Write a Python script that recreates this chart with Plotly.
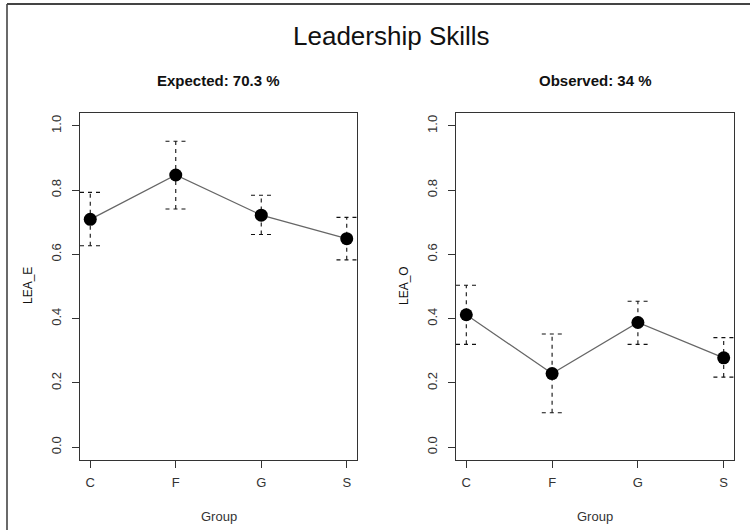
import plotly.graph_objects as go

groups = ["C", "F", "G", "S"]
exp_mean = [0.709, 0.847, 0.722, 0.649]
exp_lo = [0.627, 0.741, 0.662, 0.583]
exp_hi = [0.793, 0.952, 0.784, 0.715]
obs_mean = [0.412, 0.229, 0.388, 0.278]
obs_lo = [0.320, 0.107, 0.320, 0.218]
obs_hi = [0.504, 0.352, 0.454, 0.341]
yticks = [0.0, 0.2, 0.4, 0.6, 0.8, 1.0]
ytick_text = ["0.0", "0.2", "0.4", "0.6", "0.8", "1.0"]

main_title = "Leadership Skills"
sub_titles = ["Expected: 70.3 %", "Observed: 34 %"]
y_titles = ["LEA_E", "LEA_O"]
x_title = "Group"

FONT = "Liberation Sans, Arial, sans-serif"
CAP = 0.12
W, H = 750, 530
ML, MR, MT, MB = 80, 16, 113, 70

fig = go.Figure()

def err_paths(lo, hi):
    vx, vy, cx, cy = [], [], [], []
    for i, (a, b) in enumerate(zip(lo, hi)):
        x = i + 1
        vx += [x, x, None]
        vy += [a, b, None]
        cx += [x - CAP, x + CAP, None, x - CAP, x + CAP, None]
        cy += [a, a, None, b, b, None]
    return vx + cx, vy + cy

xs = list(range(1, len(groups) + 1))
panels = [(exp_mean, exp_lo, exp_hi), (obs_mean, obs_lo, obs_hi)]
for k, (m, lo, hi) in enumerate(panels):
    xa = "x" if k == 0 else "x2"
    ya = "y" if k == 0 else "y2"
    ex, ey = err_paths(lo, hi)
    fig.add_trace(go.Scatter(x=ex, y=ey, mode="lines", xaxis=xa, yaxis=ya,
                             line=dict(color="#111111", width=1.1, dash="4px,4px"),
                             showlegend=False, hoverinfo="skip"))
    fig.add_trace(go.Scatter(x=xs, y=m, mode="lines+markers", xaxis=xa, yaxis=ya,
                             line=dict(color="#666666", width=1.2),
                             marker=dict(color="black", size=13),
                             showlegend=False))

pw = W - ML - MR
ph = H - MT - MB
def px_x(p):
    return (p - ML) / pw
def px_y(p):
    return (H - MB - p) / ph

d1 = px_x(357)
d2 = px_x(456)
axis_common = dict(showgrid=False, zeroline=False, showline=True, mirror=True,
                   linecolor="#333333", linewidth=1.3, ticks="outside", ticklen=7,
                   tickcolor="#333333", tickwidth=1.2)
for k, dom in enumerate([[0, d1], [d2, 1]]):
    sfx = "" if k == 0 else "2"
    fig.layout["xaxis" + sfx] = dict(
        axis_common, domain=dom, range=[0.88, 4.12], tickmode="array",
        tickvals=xs, ticktext=groups, anchor="y" + sfx, ticklabelstandoff=3,
        tickfont=dict(family=FONT, size=13, color="#333333"))
    fig.layout["yaxis" + sfx] = dict(
        axis_common, range=[-0.04, 1.04], tickmode="array", tickvals=yticks,
        ticktext=ytick_text, tickangle=-90, anchor="x" + sfx, ticklabelstandoff=6,
        tickfont=dict(family=FONT, size=13, color="#333333"))

ann = [dict(text=main_title, x=px_x(391), y=px_y(36), xref="paper", yref="paper",
            xanchor="center", yanchor="middle", showarrow=False,
            font=dict(family=FONT, size=26, color="#111111")),
       dict(text="<b>" + sub_titles[0] + "</b>", x=(0 + d1) / 2, y=px_y(80), xref="paper",
            yref="paper", xanchor="center", yanchor="middle", showarrow=False,
            font=dict(family=FONT, size=15, color="#111111")),
       dict(text="<b>" + sub_titles[1] + "</b>", x=(d2 + 1) / 2, y=px_y(80), xref="paper",
            yref="paper", xanchor="center", yanchor="middle", showarrow=False,
            font=dict(family=FONT, size=15, color="#111111"))]
for k, (xl, xc) in enumerate([(28, (0 + d1) / 2), (404, (d2 + 1) / 2)]):
    ann.append(dict(text=y_titles[k], x=px_x(xl), y=px_y(286), xref="paper", yref="paper",
                    xanchor="center", yanchor="middle", textangle=-90, showarrow=False,
                    font=dict(family=FONT, size=12, color="#111111")))
    ann.append(dict(text=x_title, x=xc, y=px_y(516), xref="paper", yref="paper",
                    xanchor="center", yanchor="middle", showarrow=False,
                    font=dict(family=FONT, size=13, color="#333333")))

shapes = [dict(type="line", xref="paper", yref="paper", x0=px_x(7), x1=px_x(7),
               y0=px_y(4), y1=px_y(H), line=dict(color="#444444", width=1.6)),
          dict(type="line", xref="paper", yref="paper", x0=px_x(7), x1=px_x(W),
               y0=px_y(4), y1=px_y(4), line=dict(color="#444444", width=2))]

fig.update_layout(width=W, height=H, margin=dict(l=ML, r=MR, t=MT, b=MB),
                  paper_bgcolor="white", plot_bgcolor="white",
                  annotations=ann, shapes=shapes, showlegend=False)

fig.write_html("out.html", config={"displayModeBar": False},
               post_script="document.body.style.margin='0';document.body.style.overflow='hidden';")
